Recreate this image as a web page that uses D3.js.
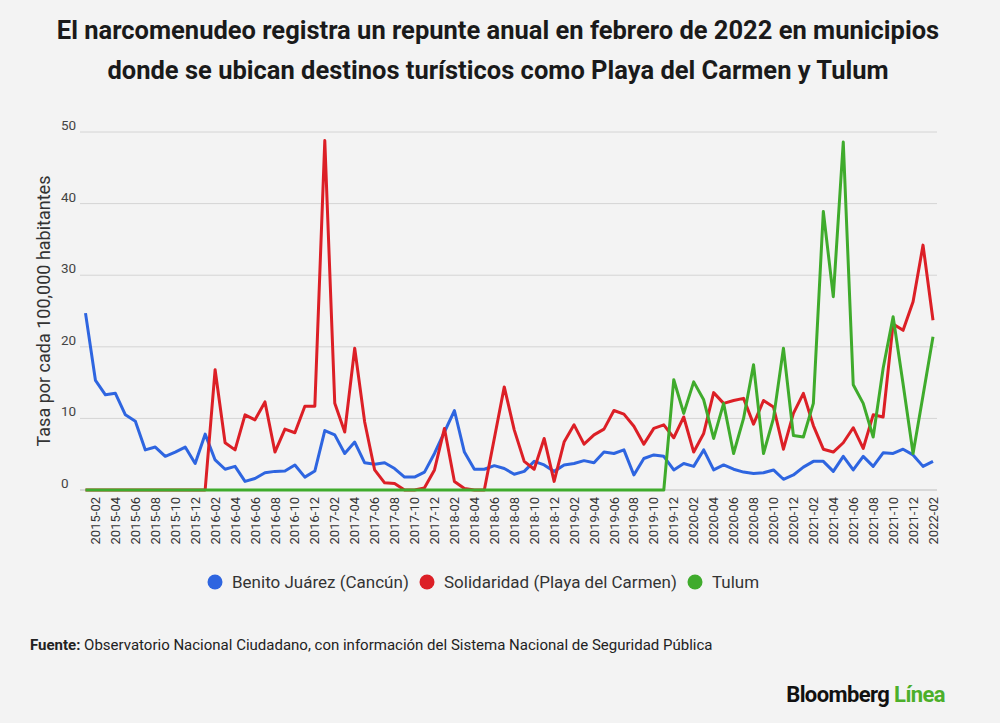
<!DOCTYPE html>
<html>
<head>
<meta charset="utf-8">
<script src="https://cdn.jsdelivr.net/npm/d3@7"></script>
<style>
  body { margin: 0; background: #f3f3f3; }
  svg { display: block; font-family: Roboto, "Noto Sans", sans-serif; }
</style>
</head>
<body>
<div id="app"></div>
<script>
const width = 1000;
const height = 723;

// meses 2015-01 .. 2022-02
const months = [
  '2015-01', '2015-02', '2015-03', '2015-04', '2015-05', '2015-06', '2015-07', '2015-08', '2015-09', '2015-10', '2015-11', '2015-12',
  '2016-01', '2016-02', '2016-03', '2016-04', '2016-05', '2016-06', '2016-07', '2016-08', '2016-09', '2016-10', '2016-11', '2016-12',
  '2017-01', '2017-02', '2017-03', '2017-04', '2017-05', '2017-06', '2017-07', '2017-08', '2017-09', '2017-10', '2017-11', '2017-12',
  '2018-01', '2018-02', '2018-03', '2018-04', '2018-05', '2018-06', '2018-07', '2018-08', '2018-09', '2018-10', '2018-11', '2018-12',
  '2019-01', '2019-02', '2019-03', '2019-04', '2019-05', '2019-06', '2019-07', '2019-08', '2019-09', '2019-10', '2019-11', '2019-12',
  '2020-01', '2020-02', '2020-03', '2020-04', '2020-05', '2020-06', '2020-07', '2020-08', '2020-09', '2020-10', '2020-11', '2020-12',
  '2021-01', '2021-02', '2021-03', '2021-04', '2021-05', '2021-06', '2021-07', '2021-08', '2021-09', '2021-10', '2021-11', '2021-12',
  '2022-01', '2022-02',
];

const benitoJuarez = [
  24.7, 15.3, 13.3, 13.5, 10.5, 9.6, 5.6, 6.0, 4.7, 5.3, 6.0, 3.7,
  7.8, 4.2, 2.9, 3.3, 1.2, 1.6, 2.4, 2.6, 2.65, 3.5, 1.8, 2.65,
  8.3, 7.7, 5.1, 6.7, 3.8, 3.6, 3.8, 3.0, 1.8, 1.8, 2.5, 5.1,
  8.1, 11.1, 5.3, 2.9, 2.9, 3.4, 3.0, 2.2, 2.6, 4.0, 3.5, 2.6,
  3.5, 3.7, 4.1, 3.8, 5.3, 5.1, 5.6, 2.1, 4.4, 4.9, 4.7, 2.8,
  3.7, 3.3, 5.6, 2.8, 3.5, 2.9, 2.5, 2.3, 2.4, 2.8, 1.5, 2.1,
  3.2, 4.0, 4.0, 2.6, 4.7, 2.8, 4.7, 3.3, 5.2, 5.1, 5.7, 4.9,
  3.3, 4.0,
];

const solidaridad = [
  0, 0, 0, 0, 0, 0, 0, 0, 0, 0, 0, 0,
  0, 16.8, 6.6, 5.6, 10.5, 9.8, 12.3, 5.3, 8.5, 8.0, 11.7, 11.7,
  48.8, 12.1, 8.1, 19.8, 9.5, 2.8, 1.0, 0.9, 0, 0, 0.3, 2.8,
  8.6, 1.2, 0.2, 0, 0, 7.2, 14.4, 8.4, 4.0, 2.9, 7.2, 1.2,
  6.7, 9.1, 6.4, 7.7, 8.5, 11.1, 10.6, 8.9, 6.4, 8.6, 9.1, 7.3,
  10.2, 5.3, 7.9, 13.6, 12.1, 12.5, 12.8, 9.2, 12.5, 11.6, 5.7, 10.7,
  13.5, 9.0, 5.7, 5.3, 6.6, 8.7, 5.8, 10.5, 10.2, 23.2, 22.3, 26.3,
  34.2, 23.7,
];

const tulum = [
  0, 0, 0, 0, 0, 0, 0, 0, 0, 0, 0, 0,
  0, 0, 0, 0, 0, 0, 0, 0, 0, 0, 0, 0,
  0, 0, 0, 0, 0, 0, 0, 0, 0, 0, 0, 0,
  0, 0, 0, 0, 0, 0, 0, 0, 0, 0, 0, 0,
  0, 0, 0, 0, 0, 0, 0, 0, 0, 0, 0, 15.4,
  10.7, 15.1, 12.6, 7.2, 12.1, 5.1, 10.0, 17.5, 5.1, 10.0, 19.8, 7.6,
  7.4, 12.1, 38.9, 27.0, 48.6, 14.7, 12.1, 7.4, 17.0, 24.2, 14.8, 5.1,
  13.2, 21.4,
];

const seriesNames = ['Benito Juárez (Cancún)', 'Solidaridad (Playa del Carmen)', 'Tulum'];
const seriesColors = ['#2e65e0', '#dc1f26', '#3fab2c'];
const yTicks = [0, 10, 20, 30, 40, 50];
const xTickLabels = months.filter((m, i) => i % 2 === 1);

const series = [benitoJuarez, solidaridad, tulum];

const svg = d3.select('#app').append('svg')
  .attr('width', width)
  .attr('height', height);

svg.append('rect')
  .attr('width', width)
  .attr('height', height)
  .attr('fill', '#f3f3f3');

// titulo
const title = svg.append('text')
  .attr('text-anchor', 'middle')
  .attr('font-size', 25.5)
  .attr('font-weight', 700)
  .attr('fill', '#1a1a1a');
title.append('tspan').attr('x', 498).attr('y', 39)
  .text('El narcomenudeo registra un repunte anual en febrero de 2022 en municipios');
title.append('tspan').attr('x', 498).attr('y', 79)
  .text('donde se ubican destinos turísticos como Playa del Carmen y Tulum');

const x = d3.scalePoint()
  .domain(months)
  .range([85.5, 933]);

const y = d3.scaleLinear()
  .domain([0, 50])
  .range([490, 132]);

// rejilla
svg.append('g')
  .selectAll('line')
  .data(yTicks)
  .join('line')
  .attr('x1', 80)
  .attr('x2', 937)
  .attr('y1', (d) => y(d))
  .attr('y2', (d) => y(d))
  .attr('stroke', (d) => (d === 0 ? '#bdbdbd' : '#d4d4d4'))
  .attr('stroke-width', 1);

svg.append('g')
  .selectAll('text')
  .data(yTicks)
  .join('text')
  .attr('x', 61)
  .attr('y', (d) => y(d) - 2)
  .attr('font-size', 13.5)
  .attr('fill', '#444')
  .text((d) => d);

svg.append('text')
  .attr('transform', 'translate(50,311) rotate(-90)')
  .attr('text-anchor', 'middle')
  .attr('font-size', 18)
  .attr('fill', '#333')
  .text('Tasa por cada 100,000 habitantes');

// eje x
svg.append('g')
  .selectAll('text')
  .data(xTickLabels)
  .join('text')
  .attr('transform', (d) => `translate(${x(d)},497) rotate(-90)`)
  .attr('text-anchor', 'end')
  .attr('dy', '0.35em')
  .attr('font-size', 13)
  .attr('fill', '#333')
  .text((d) => d);

// lineas
const line = d3.line()
  .x((d, i) => x(months[i]))
  .y((d) => y(d));

svg.append('g')
  .selectAll('path')
  .data(series)
  .join('path')
  .attr('d', line)
  .attr('fill', 'none')
  .attr('stroke', (d, i) => seriesColors[i])
  .attr('stroke-width', 3)
  .attr('stroke-linejoin', 'round');

// leyenda
const legendX = [215, 427, 695];
const legend = svg.append('g')
  .selectAll('g')
  .data(seriesNames)
  .join('g')
  .attr('transform', (d, i) => `translate(${legendX[i]},582)`);
legend.append('circle')
  .attr('r', 7.5)
  .attr('fill', (d, i) => seriesColors[i]);
legend.append('text')
  .attr('x', 17)
  .attr('dy', '0.35em')
  .attr('font-size', 17)
  .attr('fill', '#333')
  .text((d) => d);

// fuente
const source = svg.append('text')
  .attr('x', 30)
  .attr('y', 650)
  .attr('font-size', 15)
  .attr('fill', '#222');
source.append('tspan').attr('font-weight', 700).text('Fuente:');
source.append('tspan')
  .text(' Observatorio Nacional Ciudadano, con información del Sistema Nacional de Seguridad Pública');

const logo = svg.append('text')
  .attr('x', 945)
  .attr('y', 702)
  .attr('text-anchor', 'end')
  .attr('font-size', 22)
  .attr('font-weight', 700)
  .attr('letter-spacing', -0.6);
logo.append('tspan').attr('fill', '#111').text('Bloomberg ');
logo.append('tspan').attr('fill', '#4caf2a').text('Línea');
</script>
</body>
</html>
